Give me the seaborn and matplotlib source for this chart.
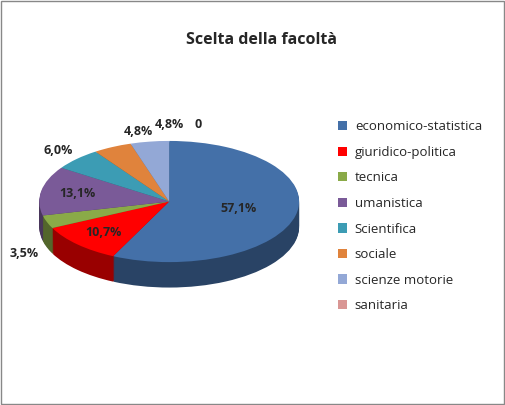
import matplotlib
matplotlib.use("Agg")
import matplotlib.pyplot as plt
import seaborn as sns
import numpy as np
from matplotlib.patches import Rectangle, Patch
import matplotlib.colors as mc

sns.set_theme(style="white")
plt.rcParams['font.family'] = ['Open Sans', 'DejaVu Sans']

categories = ["economico-statistica", "giuridico-politica", "tecnica", "umanistica",
              "Scientifica", "sociale", "scienze motorie", "sanitaria"]
values = [57.1, 10.7, 3.5, 13.1, 6.0, 4.8, 4.8, 0.0]
labels = ["57,1%", "10,7%", "3,5%", "13,1%", "6,0%", "4,8%", "4,8%", "0"]
colors = ["#4470A8", "#FF0000", "#8AAA48", "#7A5A98", "#3C9CB4", "#E0833C", "#93A8D6", "#D99694"]
label_r = [0.55, 0.72, 1.25, 0.72, 1.2, 1.2, 1.15, 1.25]
label_fix = {2: (-1.12, -0.85), 5: (-0.24, 1.15), 6: (0.0, 1.27), 7: (0.22, 1.27)}

fig = plt.figure(figsize=(5.05, 4.05), dpi=100)
fig.patches.append(Rectangle((0.002, 0.002), 0.996, 0.996, transform=fig.transFigure,
                             fill=False, edgecolor="#888888", lw=1))
fig.text(0.518, 0.9, "Scelta della facoltà", ha="center", va="center",
         fontsize=11.5, fontweight="bold")

ax = fig.add_axes([0.07, 0.29, 0.53, 0.365])
depth = 0.42
dark = [tuple(c * 0.6 for c in mc.to_rgb(col)) for col in colors]
for k in np.linspace(depth, 0.02, 25):
    ax.pie(values, colors=dark, startangle=90, counterclock=False, radius=1,
           center=(0, -k), wedgeprops=dict(linewidth=0))
ax.pie(values, colors=colors, startangle=90, counterclock=False, radius=1,
       center=(0, 0), wedgeprops=dict(linewidth=0))
ax.set_aspect("auto")
ax.set_xlim(-1.03, 1.03)
ax.set_ylim(-1 - depth, 1.02)
ax.axis("off")

cum = np.cumsum([0] + values[:-1])
tot = sum(values)
for i, (v, c0, lab, r) in enumerate(zip(values, cum, labels, label_r)):
    ang = np.deg2rad(90 - 360 * (c0 + v / 2) / tot)
    x, y = r * np.cos(ang), r * np.sin(ang)
    if i in label_fix:
        x, y = label_fix[i]
    ax.text(x, y, lab, ha="center", va="center", fontsize=9, fontweight="bold",
            clip_on=False)

handles = [Patch(facecolor=c, edgecolor="none") for c in colors]
fig.legend(handles, categories, loc="upper left", bbox_to_anchor=(0.645, 0.732),
           frameon=False, fontsize=9.5, labelspacing=0.95, handlelength=0.7,
           handleheight=0.7, handletextpad=0.6)
fig.savefig("out.png", dpi=100)
